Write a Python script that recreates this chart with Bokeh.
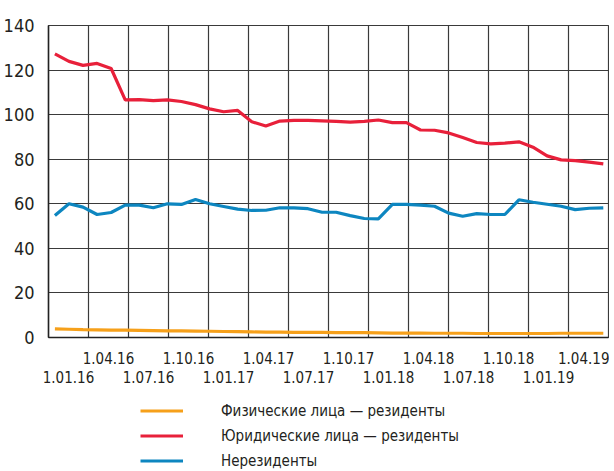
from bokeh.plotting import figure
from bokeh.layouts import column
from bokeh.models import Range1d, FixedTicker, LinearAxis, Legend, LegendItem, Grid
from bokeh.embed import file_html
from bokeh.resources import INLINE

# Monthly data, 1.01.16 .. 1.04.19 (40 points)
individuals = [3.9, 3.7, 3.5, 3.4, 3.3, 3.3, 3.2, 3.1, 3.0, 3.0,
               2.9, 2.8, 2.7, 2.6, 2.5, 2.4, 2.4, 2.3, 2.3, 2.3,
               2.2, 2.2, 2.2, 2.1, 2.0, 2.0, 2.0, 1.9, 1.9, 1.9,
               1.8, 1.8, 1.8, 1.8, 1.8, 1.8, 1.9, 1.9, 1.9, 1.9]
legal = [127.3, 123.9, 122.1, 123.0, 120.7, 106.6, 106.7, 106.3, 106.6, 105.9,
         104.5, 102.6, 101.3, 101.9, 96.8, 94.9, 97.1, 97.4, 97.4, 97.2,
         97.0, 96.6, 97.0, 97.6, 96.4, 96.4, 93.1, 93.0, 91.8, 89.7,
         87.5, 86.9, 87.2, 87.8, 85.4, 81.5, 79.7, 79.4, 78.7, 77.9]
nonres = [54.7, 60.0, 58.5, 55.2, 56.1, 59.4, 59.4, 58.2, 60.0, 59.7,
          61.9, 60.0, 58.8, 57.6, 57.0, 57.1, 58.2, 58.2, 57.8, 56.2,
          56.2, 54.7, 53.4, 53.2, 59.7, 59.7, 59.4, 58.9, 55.8, 54.4,
          55.6, 55.2, 55.2, 61.8, 60.7, 59.8, 58.9, 57.4, 58.0, 58.2]

quarter_labels = ["1.01.16", "1.04.16", "1.07.16", "1.10.16", "1.01.17", "1.04.17", "1.07.17",
                  "1.10.17", "1.01.18", "1.04.18", "1.07.18", "1.10.18", "1.01.19", "1.04.19"]
series_names = ["Физические лица — резиденты", "Юридические лица — резиденты", "Нерезиденты"]
colors = ["#f6a01a", "#e8203a", "#0d86c0"]
series = [individuals, legal, nonres]

FONT = "DejaVu Sans Condensed"
TXT = "#231f20"
GRID = "#3a3a3a"

nq = len(quarter_labels)
n = len(legal)
x_start, x_end = 0.16, 13.87
xs = [x_start + j * (x_end - x_start) / (n - 1) for j in range(n)]

p = figure(frame_width=560, frame_height=312, output_backend="svg", toolbar_location=None,
           x_range=Range1d(0, nq), y_range=Range1d(0, 140),
           x_axis_type=None, y_axis_location="left",
           min_border_left=39, min_border_right=1, min_border_top=25, min_border_bottom=40)
p.background_fill_color = "white"
p.border_fill_color = "white"
p.outline_line_color = GRID
p.outline_line_width = 1.2

# y axis
ya = p.yaxis[0]
ya.ticker = FixedTicker(ticks=list(range(0, 141, 20)))
ya.major_tick_line_color = None
ya.minor_tick_line_color = None
ya.axis_line_color = "#222222"
ya.axis_line_width = 1.5
ya.major_label_text_font = FONT
ya.major_label_text_font_size = "18px"
ya.major_label_text_color = TXT
ya.major_label_standoff = 8

p.ygrid.ticker = FixedTicker(ticks=list(range(20, 141, 20)))
p.ygrid.grid_line_color = GRID
p.ygrid.grid_line_width = 1.2

# quarter grid lines
vg = Grid(dimension=0, ticker=FixedTicker(ticks=list(range(1, nq))),
          grid_line_color=GRID, grid_line_width=1.2)
p.add_layout(vg)

# staggered x labels: two axes
upper_ticks = [q + 0.5 for q in range(1, nq, 2)]
lower_ticks = [q + 0.5 for q in range(0, nq, 2)]
for ticks, standoff in ((upper_ticks, 8), (lower_ticks, -2)):
    ax = LinearAxis(ticker=FixedTicker(ticks=ticks),
                    major_label_overrides={t: quarter_labels[int(t)] for t in ticks})
    ax.major_tick_line_color = None
    ax.minor_tick_line_color = None
    ax.axis_line_color = None
    ax.major_label_text_font = FONT
    ax.major_label_text_font_size = "15px"
    ax.major_label_text_color = TXT
    ax.major_label_standoff = standoff
    p.add_layout(ax, "below")

p.xaxis[0].axis_line_color = "#222222"
p.xaxis[0].axis_line_width = 1.5

for vals, c in zip(series, colors):
    p.line(xs, vals, line_color=c, line_width=3.2)

# legend in its own strip below the chart (series drawn out of view, only their legend shows)
lg = figure(width=600, height=87, output_backend="svg", toolbar_location=None,
            x_range=Range1d(-30, -29), y_range=Range1d(0, 1),
            x_axis_type=None, y_axis_type=None,
            min_border_left=0, min_border_right=0, min_border_top=0, min_border_bottom=0)
lg.outline_line_color = None
lg.xgrid.visible = False
lg.ygrid.visible = False
lg.background_fill_color = "white"
lg.border_fill_color = "white"
items = []
for name, vals, c in zip(series_names, series, colors):
    r = lg.line(xs, vals, line_color=c, line_width=3)
    items.append(LegendItem(label=name, renderers=[r]))
legend = Legend(items=items, location=(92, 2), orientation="vertical",
                glyph_width=43, glyph_height=19, label_height=19, spacing=6,
                label_standoff=38, padding=0, margin=0,
                label_text_font=FONT, label_text_font_size="15px",
                label_text_color=TXT,
                border_line_color=None, background_fill_alpha=0)
lg.add_layout(legend, "center")

layout = column(p, lg, spacing=0)
open("out.html", "w").write(file_html(layout, INLINE))
